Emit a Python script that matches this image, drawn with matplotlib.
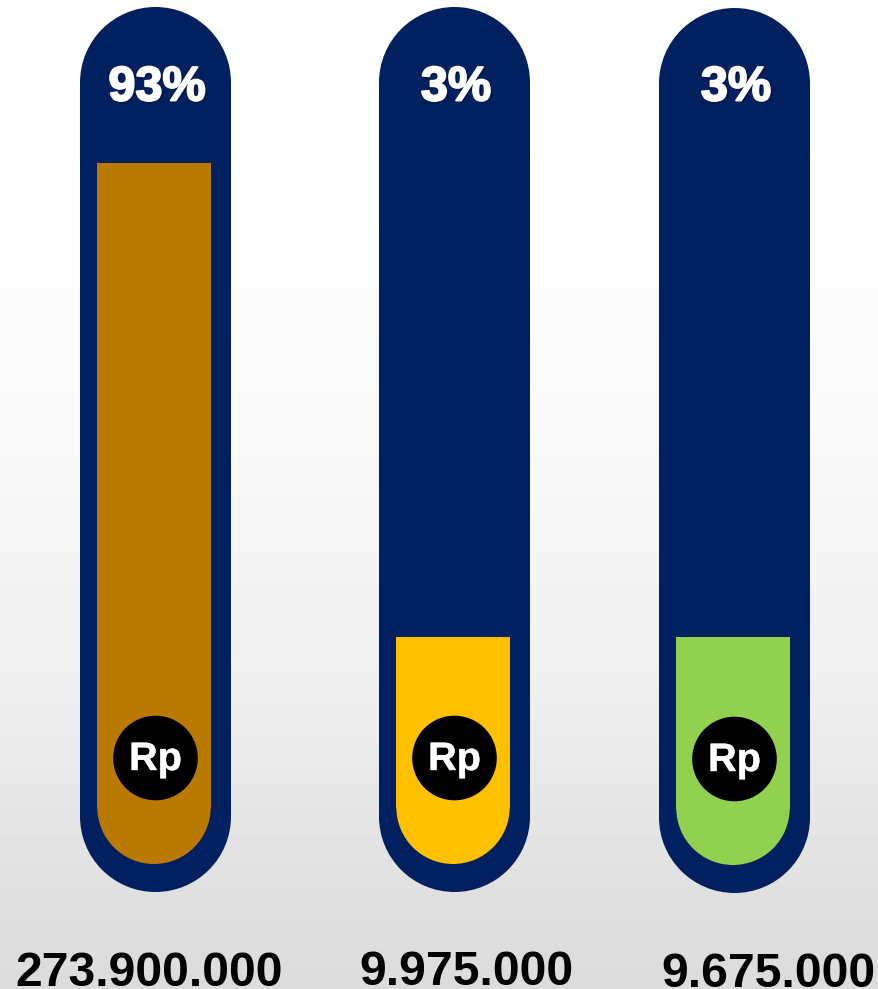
import numpy as np
import matplotlib
matplotlib.use("Agg")
import matplotlib.pyplot as plt
from matplotlib.patches import Wedge, Circle
import matplotlib.patheffects as pe

plt.rcParams['font.family'] = ['Liberation Sans', 'DejaVu Sans']

percent_labels = ["93%", "3%", "3%"]
amount_labels = ["273.900.000", "9.975.000", "9.675.000"]
fill_colors = ["#BA7A00", "#FFC000", "#92D050"]
fill_levels = [701, 227, 228]          # visible fill height of each tube, read in pixels

tube_left = [80, 379, 659]
tube_top = [7, 7, 8]
tube_bottom = [892, 892, 893]
fill_bottom = [864, 864, 865]
percent_x = [157, 456, 736]
amount_x = [149, 466, 768]
amount_base = [986, 985, 987]
coin_y = [758, 758, 759]

TUBE_W = 151
FILL_W = 114
NAVY = "#002060"

fig = plt.figure(figsize=(8.79, 9.89), dpi=100)
ax = fig.add_axes([0, 0, 1, 1])
ax.set_xlim(0, 879)
ax.set_ylim(989, 0)
ax.axis("off")

# page background
stops_y = [0, 200, 400, 600, 750, 900, 989]
stops_v = [1.0, 0.995, 0.98, 0.955, 0.92, 0.875, 0.86]
grad = np.interp(np.arange(989), stops_y, stops_v).reshape(-1, 1)
ax.imshow(grad, cmap="gray", vmin=0, vmax=1, extent=[0, 879, 989, 0], aspect="auto", zorder=0)

shadow = [pe.SimpleLineShadow(offset=(1.0, -1.0), shadow_color="black", alpha=0.25, linewidth=1.4),
          pe.withStroke(linewidth=1.4, foreground="white")]
coin_fx = [pe.withStroke(linewidth=0.3, foreground="white")]

for i in range(3):
    left, top, bottom = tube_left[i], tube_top[i], tube_bottom[i]
    cx = left + TUBE_W / 2
    r = TUBE_W / 2
    # tube: straight body with two true half circles, overlapping to hide seams
    ax.bar(cx, (bottom - r) - (top + r) + 2, width=TUBE_W, bottom=top + r - 1,
           color=NAVY, linewidth=0, zorder=1)
    ax.add_patch(Wedge((cx, top + r), r, 180, 360, fc=NAVY, ec="none", zorder=1))
    ax.add_patch(Wedge((cx, bottom - r), r, 0, 180, fc=NAVY, ec="none", zorder=1))

    fr = FILL_W / 2 - 0.3
    fcx = left + 17 + FILL_W / 2
    arc_y = fill_bottom[i] - fr
    fill_top = fill_bottom[i] - fill_levels[i]
    ax.add_patch(Wedge((fcx, arc_y), fr, 0, 180, fc=fill_colors[i], ec="none", zorder=2))
    ax.bar(fcx, arc_y - fill_top + 0.5, width=2 * fr, bottom=fill_top,
           color=fill_colors[i], linewidth=0, zorder=2)
    ax.bar(fcx, 700 - fill_top, width=FILL_W, bottom=fill_top,
           color=fill_colors[i], linewidth=0, zorder=2)

    ax.add_patch(Circle((left + 75.5, coin_y[i]), 42.3, fc="black", ec="none", zorder=3))
    ax.text(left + 75.5, coin_y[i] + 12, "Rp", color="white", fontsize=28.5, fontweight="bold",
            ha="center", va="baseline", zorder=4, path_effects=coin_fx)

    ax.text(percent_x[i], 100.5, percent_labels[i], color="white", fontsize=35, fontweight="bold",
            ha="center", va="baseline", zorder=4, path_effects=shadow)
    ax.text(amount_x[i], amount_base[i], amount_labels[i], color="black", fontsize=34.7,
            fontweight="bold", ha="center", va="baseline", zorder=4)

fig.savefig("out.png", dpi=100)
